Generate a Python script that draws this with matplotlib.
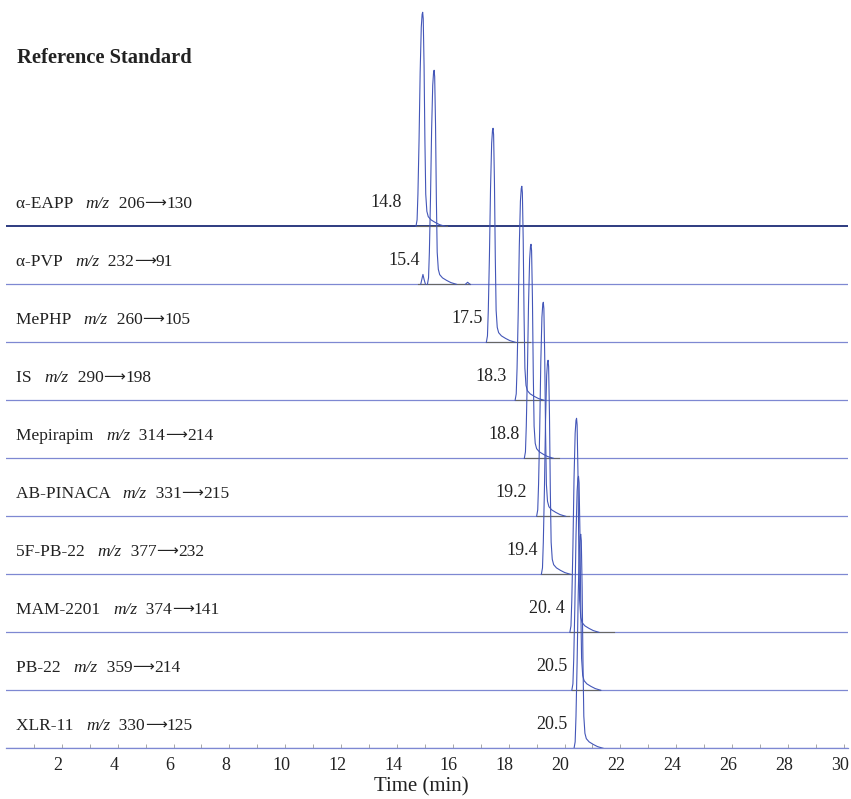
import matplotlib
matplotlib.use("Agg")
import matplotlib.pyplot as plt
import matplotlib.transforms as mtransforms
import numpy as np

plt.rcParams["font.family"] = ["Liberation Serif", "DejaVu Serif"]

# Compounds, top to bottom
names = ["α-EAPP", "α-PVP", "MePHP", "IS", "Mepirapim", "AB-PINACA",
         "5F-PB-22", "MAM-2201", "PB-22", "XLR-11"]
precursor = ["206", "232", "260", "290", "314", "331", "377", "374", "359", "330"]
product = ["130", "91", "105", "198", "214", "215", "232", "141", "214", "125"]
rt_labels = ["14.8", "15.4", "17.5", "18.3", "18.8", "19.2", "19.4",
             "20. 4", "20.5", "20.5"]
# apex time (min)
apex = [14.92, 15.33, 17.44, 18.47, 18.80, 19.24, 19.41, 20.43, 20.50, 20.58]
# end of each recorded trace (min)
trace_end = [15.78, 16.61, 18.76, 19.23, 19.80, 20.17, 20.22, 21.77, 21.27, 21.38]
# all peaks scaled to the same height (in track spacings)
peak_height = 3.69

# common peak profile read from the first peak: offset (min), relative height
prof_off = [-0.24, -0.20, -0.17, -0.13, -0.09, -0.05, -0.02, 0.0, 0.02,
            0.05, 0.08, 0.11, 0.15, 0.20, 0.30, 0.45, 0.60, 0.80]
prof_rel = [0.0, 0.03, 0.15, 0.40, 0.72, 0.93, 0.99, 1.0, 0.97,
            0.75, 0.40, 0.15, 0.07, 0.045, 0.03, 0.018, 0.008, 0.0]

# small side peaks on the alpha-PVP trace: track, time, height (track spacings)
minor_track = [1, 1]
minor_time = [14.93, 16.53]
minor_height = [0.17, 0.035]
minor_off = [-0.08, -0.04, 0.0, 0.04, 0.09]
minor_rel = [0.0, 0.5, 1.0, 0.5, 0.0]

# layout: right edge of the retention-time labels (min)
rt_label_x = [14.17, 14.82, 17.07, 17.93, 18.38, 18.65, 19.06, 20.0, 20.12, 20.12]

trace_col = "#4356b8"
base_col = "#7e88d2"
top_col = "#2d3b80"
seg_col = "#666666"
txt_col = "#222222"
fs = 12.5

fig = plt.figure(figsize=(8.51, 7.99), dpi=100)
ax = fig.add_axes([6 / 851, (799 - 748.3) / 799, 842 / 851, 748.3 / 799])
ax.set_xlim(0, 30.15)
ax.set_ylim(0, 748.3 / 58)


def chain(prev, s, y, **kw):
    # place a piece of text right after the previous one, on the same baseline
    return ax.annotate(s, xy=(1, y), xycoords=(prev, "data"), ha="left",
                       va="baseline", color=txt_col, **kw)


n = len(names)
for i in range(n):
    y0 = n - 1 - i
    ax.axhline(y0, color=top_col if i == 0 else base_col,
               lw=1.4 if i == 0 else 0.9, zorder=1)
    start = apex[i] + prof_off[0]
    if i == 1:
        start = minor_time[0] - 0.18
    ax.plot([start, trace_end[i]], [y0, y0], color=seg_col, lw=0.8, zorder=2)
    t = apex[i] + np.array(prof_off)
    ax.plot(t, y0 + peak_height * np.array(prof_rel), color=trace_col,
            lw=0.8, zorder=3)

    yb = y0 + 0.31
    t1 = ax.text(0.35, yb, names[i] + "   ", ha="left", va="baseline",
                 fontsize=fs, color=txt_col)
    t2 = chain(t1, "m/z", yb, fontsize=fs, style="italic")
    t3 = chain(t2, "  " + precursor[i], yb, fontsize=fs)
    t4 = chain(t3, "\u27f6", yb + 0.01, fontsize=11, family="DejaVu Sans")
    chain(t4, product[i], yb, fontsize=fs)

    ax.text(rt_label_x[i], y0 + 0.41, rt_labels[i], ha="right",
            va="center", fontsize=13, color=txt_col)

for k in range(len(minor_time)):
    y0 = n - 1 - minor_track[k]
    ax.plot(minor_time[k] + np.array(minor_off),
            y0 + minor_height[k] * np.array(minor_rel),
            color=trace_col, lw=0.8, zorder=3)

ax.text(0.39, 11.9, "Reference Standard", ha="left", va="center",
        fontsize=14.8, fontweight="bold", color=txt_col)

for s in ["top", "right", "left"]:
    ax.spines[s].set_visible(False)
ax.spines["bottom"].set_color(base_col)
ax.spines["bottom"].set_linewidth(0.9)
ax.set_yticks([])
ax.set_xticks(np.arange(2, 31, 2))
ax.set_xticks(np.arange(1, 31, 2), minor=True)
ax.tick_params(axis="x", which="both", direction="in", length=3, width=0.6,
               color="#999999", labelsize=13, labelcolor=txt_col, pad=6)
shift = mtransforms.ScaledTranslation(-4 / 100, 0, fig.dpi_scale_trans)
for lab in ax.get_xticklabels():
    lab.set_transform(lab.get_transform() + shift)
ax.set_xlabel("Time (min)", fontsize=15, color=txt_col)
ax.xaxis.set_label_coords((421 - 6) / 842, -(777 - 748.3) / 748.3)

fig.savefig("out.png", dpi=100)
